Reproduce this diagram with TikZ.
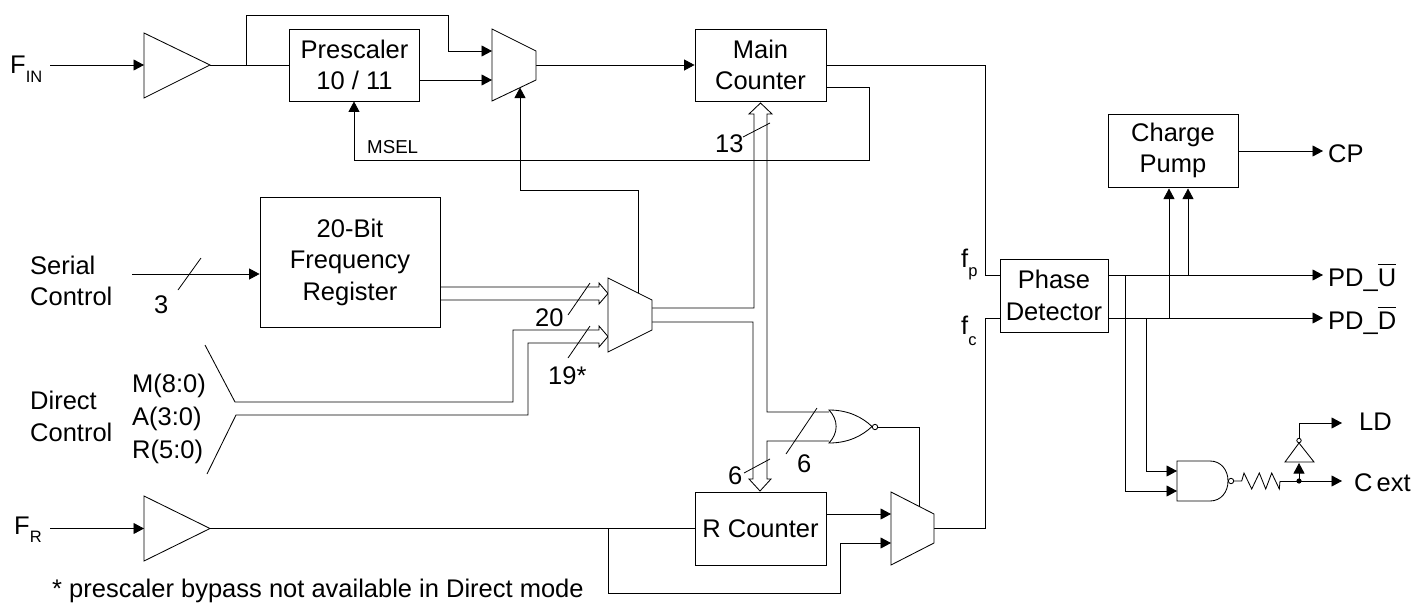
\documentclass[tikz,border=0pt]{standalone}
\usepackage{fontspec}
\setmainfont{Liberation Sans}
\usetikzlibrary{arrows.meta}
\newcommand\ovl[1]{\setbox0\hbox{#1}\rlap{\rule[\dimexpr\ht0+4pt\relax]{\wd0}{0.9pt}}#1}
\newcommand\subt[2]{\raisebox{-#1pt}{\fontsize{16.5}{18}\selectfont #2}}
\tikzset{
  wire/.style={line width=0.85pt,line join=miter},
  sig/.style={wire,-{Triangle[length=10.5pt,width=11pt]}},
  blockbox/.style={draw,line width=0.85pt,inner sep=0pt,align=center,font=\fontsize{25.5}{31.5}\selectfont},
  lbl/.style={anchor=base west,inner sep=0pt,font=\fontsize{25.5}{31}\selectfont},
  smalllbl/.style={anchor=base west,inner sep=0pt,font=\fontsize{18.7}{20}\selectfont},
  gate/.style={line width=0.85pt,fill=white},
  slash/.style={line width=0.8pt}
}
\begin{document}
\begin{tikzpicture}[x=1pt,y=-1pt]
\useasboundingbox (0,0) rectangle (1427,603);
% pins
\coordinate (fin) at (50,65);
\coordinate (bi1) at (144,65);
\coordinate (bo1) at (210,65);
\coordinate (tap) at (246,65);
\coordinate (m1a) at (492,51);
\coordinate (m1b) at (492,80);
\coordinate (m1o) at (536,65);
\coordinate (m1s) at (520,87.5);
\coordinate (fr) at (50,528.5);
\coordinate (bi2) at (144,528.5);
\coordinate (bo2) at (210,528.5);
\coordinate (tap2) at (608,528.5);
\coordinate (m2a) at (891,514);
\coordinate (m2b) at (891,543);
\coordinate (m2o) at (934,528.5);
\coordinate (m2s) at (919,506);
\coordinate (m3s) at (638,293);
\coordinate (m3o1) at (652,308);
\coordinate (m3o2) at (652,322);
\coordinate (seri) at (132,274);
\coordinate (nora) at (829,412);
\coordinate (norb) at (829,441);
\coordinate (noro) at (878,427);
\coordinate (nandi1) at (1177,471);
\coordinate (nandi2) at (1177,491);
\coordinate (nando) at (1233.5,481);
\coordinate (rout) at (1280,481);
\coordinate (junc) at (1299,481);
\coordinate (invi) at (1299,463);
\coordinate (invo) at (1299,438);
\coordinate (cext) at (1342,481);
\coordinate (ld) at (1342,423);
\coordinate (cp) at (1323,151);
\coordinate (pdu) at (1323,275);
\coordinate (pdd) at (1323,318);
% blocks
\node[blockbox,minimum width=130pt,minimum height=72pt] (presc) at (354.5,65) {Prescaler\\10 / 11};
\node[blockbox,minimum width=131pt,minimum height=72pt] (main) at (760.5,65) {Main\\Counter};
\node[blockbox,minimum width=180pt,minimum height=130pt] (freg) at (350,262) {20-Bit\\Frequency\\Register};
\node[blockbox,minimum width=131pt,minimum height=73pt] (rcnt) at (760.5,528.5) {R Counter};
\node[blockbox,minimum width=108pt,minimum height=73pt] (pdet) at (1054,295.5) {Phase\\Detector};
\node[blockbox,minimum width=130pt,minimum height=73pt] (pump) at (1173,150.5) {Charge\\Pump};
% wires top
\draw[sig] (fin) -- (bi1);
\draw[wire] (bo1) -- (presc.west |- bo1);
\draw[sig] (tap) -- (246,15) -- (448,15) -- (448,51) -- (m1a);
\draw[sig] (presc.east |- m1b) -- (m1b);
\draw[sig] (m1o) -- (main.west |- m1o);
\draw[wire] (main.east |- m1o) -- (985,65) -- (985,275) -- (pdet.west |- 0,275);
\draw[sig] (main.east |- 0,87) -- (869,87) -- (869,160) -- (354,160) -- (presc.south -| 354,0);
\draw[sig] (m3s) -- (638,190.5) -- (520,190.5) -- (m1s);
% serial
\draw[sig] (seri) -- (freg.west |- seri);
\draw[slash] (178,290) coordinate (s3a) -- (201,258) coordinate (s3b);
% bus inputs to mux3
\draw[wire] (freg.east |- 0,287) -- (599,287) -- (599,283) -- (608,293.5) -- (599,304) -- (599,300) -- (freg.east |- 0,300);
\draw[wire] (205,345) coordinate (dca) -- (235,402) -- (513,402) -- (513,330) -- (599,330) -- (599,326) -- (608,336.5) -- (599,347) -- (599,343) -- (528,343) -- (528,415) -- (236,415) -- (207,474) coordinate (dcb);
% bus from mux3
\draw[wire] (m3o1) -- (754,308) -- (754,114) -- (749,114) -- (760.5,103) -- (772,114) -- (767,114) -- (767,412) -- (nora);
\draw[wire] (m3o2) -- (753,322) -- (753,479) -- (749,479) -- (760,491) -- (771,479) -- (767,479) -- (767,441) -- (norb);
% bottom
\draw[sig] (fr) -- (bi2);
\draw[wire] (bo2) -- (rcnt.west |- bo2);
\draw[sig] (tap2) -- (608,593) -- (840,593) -- (840,543) -- (m2b);
\draw[sig] (rcnt.east |- m2a) -- (m2a);
\draw[wire] (m2o) -- (985,528.5) -- (985,318) -- (pdet.west |- 0,318);
\draw[wire] (noro) -- (919,427) -- (m2s);
% right side
\draw[sig] (pump.east |- cp) -- (cp);
\draw[sig] (pdet.east |- pdu) -- (pdu);
\draw[sig] (pdet.east |- pdd) -- (pdd);
\draw[sig] (1169,318) -- (1169,188.5);
\draw[sig] (1188,275) -- (1188,188.5);
\draw[sig] (1125,275) -- (1125,491) -- (nandi2);
\draw[sig] (1146,318) -- (1146,471) -- (nandi1);
\draw[wire] (nando) -- (1241.7,481) -- (1244,473) -- (1251.7,489) -- (1259.3,473) -- (1265.7,489) -- (1271.7,473) -- (1279.3,489) -- (rout);
\draw[sig] (rout) -- (cext);
\draw[sig] (junc) -- (invi);
\draw[sig] (invo) -- (1299,423) -- (ld);
% gates
\draw[gate] (144,33) -- (210,65) -- (144,98) -- cycle;
\draw[gate] (144,496) -- (210,528.5) -- (144,561) -- cycle;
\draw[gate] (492,29) -- (536,51) -- (536,80) -- (492,101) -- cycle;
\draw[gate] (891,492) -- (934,514) -- (934,543) -- (891,565) -- cycle;
\draw[gate] (608,278) -- (652,300) -- (652,330) -- (608,352) -- cycle;
\draw[gate] (829,410) .. controls (848,410) and (862,417) .. (872,426.5) .. controls (862,436) and (848,443) .. (829,443) .. controls (838.5,433) and (838.5,420) .. (829,410) -- cycle;
\draw[gate] (875,427) circle (2.7);
\draw[gate] (1177,461) -- (1210,461) .. controls (1221,461) and (1228,470) .. (1228,481) .. controls (1228,492) and (1221,501) .. (1210,501) -- (1177,501) -- cycle;
\draw[gate] (1231,481) circle (2.7);
\draw[gate] (1285,462) -- (1314,462) -- (1299,443) -- cycle;
\draw[gate] (1299,440.5) circle (2.2);
\fill (junc) circle (2.6);
% bus slashes
\draw[slash] (568,315) coordinate (s20a) -- (590,283) coordinate (s20b);
\draw[slash] (568,358) coordinate (s19a) -- (590,326) coordinate (s19b);
\draw[slash] (743,137) coordinate (s13a) -- (770,123) coordinate (s13b);
\draw[slash] (786,454) coordinate (s6a) -- (817,408) coordinate (s6b);
\draw[slash] (744,473) coordinate (s6c) -- (770,459) coordinate (s6d);
% labels
\node[lbl] (lfin) at (10,73) {F\subt{9}{IN}};
\node[lbl] (lfr) at (14,534) {F\subt{8}{R}};
\node[lbl] (lser1) at (30,274) {Serial};
\node[lbl] (lser2) at (30,305) {Control};
\node[lbl] (ldir1) at (30,409) {Direct};
\node[lbl] (ldir2) at (30,441) {Control};
\node[lbl] (lm) at (132,392) {M(8:0)};
\node[lbl] (la) at (132,425) {A(3:0)};
\node[lbl] (lr) at (132,458) {R(5:0)};
\node[lbl] (l3) at (154,313) {3};
\node[lbl] (l20) at (535,326) {20};
\node[lbl] (l19) at (548,384) {19*};
\node[lbl] (l13) at (715,152) {13};
\node[lbl] (l6a) at (728,484) {6};
\node[lbl] (l6b) at (797,472) {6};
\node[smalllbl] (lmsel) at (367,153) {MSEL};
\node[lbl] (lfp) at (961,267) {f\subt{9}{p}};
\node[lbl] (lfc) at (961,334) {f\subt{11}{c}};
\node[lbl] (lcp) at (1328,162) {CP};
\node[lbl] (lpdu) at (1328,286) {PD\_\ovl{U}};
\node[lbl] (lpdd) at (1328,329) {PD\_\ovl{D}};
\node[lbl] (lld) at (1359,430) {LD};
\node[lbl] (lcx) at (1354,491) {\spaceskip=4pt C ext};
\node[lbl] (lnote) at (52,597) {* prescaler bypass not available in Direct mode};
\end{tikzpicture}
\end{document}
